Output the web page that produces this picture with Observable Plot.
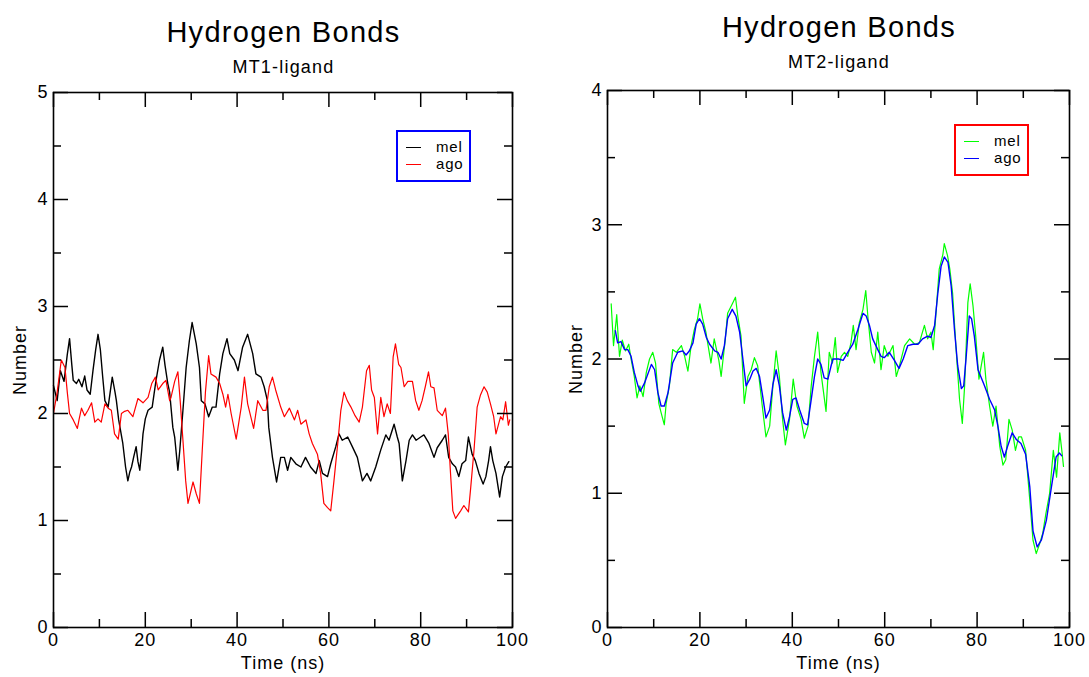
<!DOCTYPE html>
<html><head><meta charset="utf-8">
<script src="https://cdn.jsdelivr.net/npm/d3@7"></script>
<script src="https://cdn.jsdelivr.net/npm/@observablehq/plot@0.6"></script>
<style>
body{margin:0;background:#fff;font-family:"Liberation Sans",Arial,sans-serif;color:#000;}
#root{position:relative;width:1089px;height:677px;overflow:hidden;background:#fff;}
.title{position:absolute;font-size:29px;line-height:29px;letter-spacing:1.3px;text-align:center;white-space:nowrap;}
.sub{position:absolute;font-size:18px;line-height:18px;letter-spacing:1.2px;text-align:center;white-space:nowrap;}
.panel{position:absolute;top:80px;}
.legend{position:absolute;width:71px;height:48px;border:2px solid;background:#fff;}
.legend .sw{position:absolute;left:8px;width:15px;height:0;border-top:1.5px solid;}
.legend .lb{position:absolute;left:38px;font-size:15px;line-height:15px;letter-spacing:0.8px;}
</style></head>
<body><div id="root"></div>
<script>
// ---- data: time (ns), number of hydrogen bonds ----
const xMajorTicks = [0, 20, 40, 60, 80, 100];
const xMinorTicks = [10, 30, 50, 70, 90];
const mt1YMajor = [0, 1, 2, 3, 4, 5];
const mt1YMinor = [0.5, 1.5, 2.5, 3.5, 4.5];
const mt2YMajor = [0, 1, 2, 3, 4];
const mt2YMinor = [0.5, 1.5, 2.5, 3.5];
const seriesNames = ["mel", "ago"];

const mt1Mel = [[0,2.26],[0.8,2.12],[1.5,2.4],[2.3,2.3],[3.0,2.55],[3.5,2.7],[4.0,2.45],[4.3,2.31],[5.0,2.28],[5.5,2.32],[6.2,2.25],[6.8,2.35],[7.3,2.22],[8.0,2.18],[8.6,2.4],[9.2,2.6],[9.7,2.74],[10.2,2.6],[10.7,2.35],[11.2,2.12],[11.9,2.06],[12.8,2.34],[13.4,2.2],[13.7,2.12],[14.2,1.94],[15.1,1.72],[15.7,1.5],[16.2,1.37],[16.6,1.45],[17.0,1.5],[17.5,1.6],[18.0,1.69],[18.4,1.55],[18.8,1.47],[19.2,1.65],[19.5,1.81],[20.0,1.95],[20.6,2.03],[21.5,2.06],[22.3,2.3],[23.1,2.5],[23.8,2.62],[24.3,2.45],[24.9,2.28],[25.3,2.2],[26.0,1.87],[26.4,1.78],[27.1,1.47],[27.5,1.65],[28.2,2.03],[28.9,2.43],[29.6,2.68],[30.2,2.85],[31.1,2.65],[31.8,2.43],[32.2,2.12],[33.0,2.09],[33.8,1.97],[34.6,2.06],[35.4,2.06],[36.2,2.37],[36.9,2.56],[37.8,2.7],[38.4,2.56],[39.4,2.5],[40.2,2.4],[41.2,2.62],[42.3,2.74],[43.4,2.56],[44.1,2.37],[45.2,2.34],[45.9,2.25],[46.6,2.12],[46.9,1.87],[47.7,1.59],[48.6,1.36],[49.5,1.59],[50.3,1.59],[51.0,1.47],[51.7,1.59],[52.8,1.53],[53.9,1.5],[54.9,1.59],[56.0,1.5],[57.2,1.44],[57.9,1.56],[58.6,1.44],[59.7,1.41],[60.4,1.53],[61.5,1.69],[62.2,1.81],[62.9,1.75],[64.1,1.78],[65.1,1.69],[66.2,1.59],[67.3,1.37],[68.3,1.44],[69.1,1.37],[70.2,1.5],[71.3,1.66],[72.4,1.8],[73.1,1.75],[74.2,1.9],[74.9,1.78],[75.3,1.72],[76.0,1.37],[76.8,1.56],[77.5,1.75],[78.2,1.8],[79.0,1.75],[80.0,1.78],[80.7,1.8],[81.8,1.72],[82.9,1.59],[83.6,1.68],[84.7,1.75],[85.4,1.8],[86.1,1.59],[86.9,1.53],[87.6,1.5],[88.3,1.41],[89.0,1.53],[89.8,1.56],[90.4,1.78],[91.2,1.62],[91.9,1.56],[92.7,1.44],[93.6,1.34],[94.2,1.41],[94.8,1.56],[95.2,1.69],[95.7,1.56],[96.4,1.44],[97.2,1.22],[97.8,1.41],[98.5,1.5],[99.2,1.55]];

const mt1Ago = [[0,2.0],[0.8,2.2],[1.7,2.5],[2.5,2.43],[3.0,2.2],[3.5,2.0],[4.3,1.94],[5.2,1.86],[5.6,1.95],[6.1,2.05],[6.8,1.98],[7.5,2.03],[8.3,2.1],[9.0,1.92],[9.7,1.95],[10.4,1.92],[11.2,2.09],[11.9,2.05],[12.6,2.03],[13.3,1.81],[14.1,1.76],[14.8,2.0],[15.5,2.02],[16.2,2.03],[17.3,1.97],[18.4,2.14],[19.5,2.1],[20.6,2.15],[21.4,2.28],[22.2,2.34],[22.8,2.22],[23.8,2.28],[24.5,2.31],[25.3,2.12],[25.6,2.15],[26.4,2.3],[27.1,2.39],[27.6,2.12],[28.2,1.75],[28.8,1.37],[29.3,1.16],[29.8,1.25],[30.4,1.36],[31.1,1.25],[31.8,1.16],[32.4,1.65],[33.1,2.2],[33.8,2.54],[34.3,2.37],[35.4,2.34],[36.2,2.28],[36.9,2.18],[37.5,2.06],[38.0,2.18],[38.7,2.0],[39.8,1.76],[40.9,2.06],[41.6,2.34],[42.3,2.09],[43.6,1.86],[44.5,2.12],[45.6,2.03],[46.3,2.03],[47.0,2.25],[47.7,2.34],[48.4,2.22],[49.5,2.06],[50.3,1.97],[51.4,2.05],[52.5,1.94],[53.2,2.03],[53.9,1.9],[55.0,1.94],[55.7,1.81],[56.4,1.72],[57.5,1.62],[58.2,1.44],[58.9,1.16],[59.7,1.12],[60.4,1.09],[61.1,1.37],[62.0,1.75],[62.6,2.03],[63.3,2.2],[64.0,2.12],[64.8,2.06],[65.7,1.98],[66.6,1.92],[67.3,2.06],[68.2,2.4],[68.8,2.45],[69.3,2.22],[69.9,2.15],[70.6,1.81],[71.3,2.15],[72.0,1.97],[72.7,2.09],[73.4,2.0],[74.0,2.53],[74.5,2.65],[75.2,2.46],[75.7,2.43],[76.4,2.25],[77.2,2.3],[78.2,2.3],[78.9,2.12],[79.6,2.03],[80.3,2.12],[81.0,2.25],[81.7,2.39],[82.2,2.25],[82.9,2.24],[83.6,2.03],[84.7,1.98],[85.4,2.05],[86.0,1.81],[86.5,1.44],[87.0,1.09],[87.6,1.02],[88.7,1.09],[89.4,1.14],[90.4,1.08],[90.9,1.31],[91.6,1.65],[92.3,2.06],[93.0,2.17],[93.8,2.25],[94.5,2.2],[95.2,2.09],[95.9,1.97],[96.4,1.81],[97.4,1.97],[97.9,1.94],[98.5,2.11],[99.1,1.89],[99.4,1.94]];

const mt2Mel = [[0.8,2.41],[1.3,2.1],[2.0,2.33],[2.6,2.02],[3.2,2.14],[3.9,2.06],[4.6,2.11],[5.1,2.0],[5.8,1.87],[6.4,1.71],[7.0,1.8],[7.7,1.72],[8.4,1.9],[9.1,2.0],[9.8,2.05],[10.4,1.97],[11.1,1.67],[11.6,1.6],[12.3,1.51],[12.7,1.67],[13.4,1.8],[14.1,2.07],[14.9,2.05],[16.0,2.1],[16.7,2.02],[17.4,1.91],[18.1,2.1],[18.8,2.22],[19.5,2.3],[20.0,2.41],[20.6,2.3],[21.3,2.2],[22.4,1.97],[23.1,2.15],[24.1,1.99],[24.6,1.87],[25.5,2.15],[26.0,2.34],[27.0,2.41],[27.7,2.46],[28.2,2.32],[28.9,2.17],[29.6,1.67],[30.4,1.87],[31.1,1.92],[31.8,2.01],[32.5,1.95],[33.6,1.62],[34.3,1.42],[35.1,1.5],[35.8,1.8],[36.5,2.06],[37.2,1.87],[37.9,1.55],[38.5,1.36],[39.4,1.55],[40.2,1.85],[41.0,1.65],[41.9,1.55],[42.6,1.41],[43.4,1.5],[44.1,1.8],[44.8,2.02],[45.5,2.2],[46.2,1.9],[47.3,1.61],[48.0,2.05],[48.7,1.97],[49.3,2.16],[49.8,1.9],[50.6,2.02],[51.3,2.05],[52.0,2.02],[52.7,2.12],[53.2,2.25],[53.8,2.07],[54.5,2.27],[55.3,2.37],[55.9,2.51],[56.4,2.3],[57.1,2.05],[57.8,1.97],[58.5,2.2],[59.2,1.92],[59.9,2.1],[60.7,2.02],[61.8,2.1],[62.5,1.87],[63.2,1.95],[64.3,2.1],[65.4,2.15],[66.5,2.11],[67.5,2.12],[68.6,2.25],[69.3,2.15],[70.0,2.2],[70.5,2.07],[71.1,2.34],[71.8,2.67],[72.6,2.78],[72.9,2.86],[73.6,2.77],[74.1,2.67],[74.7,2.49],[75.4,2.1],[76.2,1.7],[76.8,1.52],[77.3,1.8],[78.0,2.42],[78.5,2.56],[79.1,2.4],[79.7,2.17],[80.4,1.85],[80.9,1.95],[81.4,2.05],[81.9,1.85],[82.7,1.65],[83.4,1.5],[84.1,1.65],[84.9,1.35],[85.6,1.21],[86.2,1.25],[86.9,1.55],[87.6,1.47],[88.3,1.32],[89.0,1.42],[89.6,1.42],[90.5,1.32],[91.4,0.95],[92.1,0.65],[92.8,0.55],[93.5,0.62],[94.2,0.7],[94.9,0.85],[95.7,1.0],[96.5,1.32],[97.2,1.12],[97.9,1.45],[98.4,1.3],[98.7,1.2]];

const mt2Ago = [[1.7,2.21],[2.2,2.12],[2.9,2.13],[3.7,2.07],[4.4,2.07],[5.1,2.02],[5.8,1.9],[6.6,1.8],[7.1,1.76],[8.0,1.82],[9.5,1.96],[10.2,1.92],[10.9,1.75],[11.6,1.65],[12.3,1.65],[13.1,1.75],[14.1,1.97],[15.2,2.05],[16.3,2.06],[17.0,2.03],[17.7,2.06],[18.5,2.12],[19.2,2.26],[19.9,2.3],[20.6,2.26],[21.4,2.16],[22.1,2.11],[23.2,2.06],[23.9,2.05],[24.6,2.0],[25.3,2.1],[26.0,2.3],[27.0,2.37],[27.8,2.32],[28.6,2.2],[29.3,2.0],[30.0,1.8],[30.8,1.85],[31.5,1.91],[32.2,1.93],[32.9,1.87],[33.6,1.72],[34.3,1.56],[35.1,1.62],[35.8,1.81],[36.5,1.92],[37.2,1.8],[37.9,1.6],[38.7,1.47],[39.4,1.57],[40.1,1.7],[40.8,1.71],[41.6,1.62],[42.6,1.52],[43.3,1.51],[44.1,1.7],[44.8,1.87],[45.5,2.0],[46.2,1.96],[46.9,1.86],[47.7,1.85],[48.4,1.95],[48.8,2.0],[50.0,2.0],[51.0,1.99],[52.0,2.05],[53.1,2.11],[54.2,2.22],[55.3,2.34],[56.0,2.32],[56.7,2.25],[57.4,2.15],[58.5,2.07],[59.2,2.02],[59.9,2.01],[61.0,2.05],[62.1,1.99],[63.1,1.93],[64.0,2.0],[65.0,2.1],[66.1,2.11],[67.2,2.11],[68.2,2.15],[69.3,2.17],[70.0,2.16],[70.8,2.25],[71.5,2.49],[72.2,2.69],[72.9,2.76],[73.7,2.72],[74.4,2.54],[75.1,2.22],[75.8,1.95],[76.6,1.78],[77.1,1.8],[77.6,2.0],[78.3,2.32],[78.8,2.3],[79.4,2.17],[80.2,1.92],[80.9,1.86],[81.6,1.8],[82.7,1.7],[83.8,1.62],[84.5,1.5],[85.2,1.35],[85.9,1.27],[86.6,1.35],[87.6,1.45],[88.5,1.4],[89.5,1.37],[90.5,1.29],[91.4,1.05],[92.1,0.72],[93.0,0.6],[93.9,0.65],[95.0,0.8],[96.1,1.05],[97.1,1.27],[97.8,1.3],[98.3,1.28]];

// ---- panel builder ----
const FONT = '"Liberation Sans", Arial, sans-serif';
const fmt = d3.format("d");
function panel({width, marginLeft, marginRight, marginTop, yMax, yMajor, yMinor, lines, labelDx}) {
  const height = 597, marginBottom = 50;
  const fh = height - marginTop - marginBottom;
  const fw = width - marginLeft - marginRight;
  const tk = {stroke: "#000", strokeWidth: 1.5};
  const X = d => d;
  return Plot.plot({
    width, height, marginLeft, marginRight, marginTop, marginBottom,
    x: {domain: [0, 100]},
    y: {domain: [0, yMax]},
    style: {fontFamily: FONT, fontSize: "18px", color: "#000", background: "transparent", overflow: "visible", letterSpacing: "1px"},
    marks: [
      ...lines.map(l => Plot.line(l.data, {x: d => d[0], y: d => d[1], stroke: l.color, strokeWidth: l.w})),
      Plot.frame({stroke: "#000", strokeWidth: 1.6}),
      Plot.tickX(xMajorTicks, {x: X, insetTop: fh - 15, ...tk}),
      Plot.tickX(xMajorTicks, {x: X, insetBottom: fh - 15, ...tk}),
      Plot.tickX(xMinorTicks, {x: X, insetTop: fh - 8, ...tk}),
      Plot.tickX(xMinorTicks, {x: X, insetBottom: fh - 8, ...tk}),
      Plot.tickY(yMajor, {y: X, insetRight: fw - 15, ...tk}),
      Plot.tickY(yMajor, {y: X, insetLeft: fw - 15, ...tk}),
      Plot.tickY(yMinor, {y: X, insetRight: fw - 8, ...tk}),
      Plot.tickY(yMinor, {y: X, insetLeft: fw - 8, ...tk}),
      Plot.axisX(xMajorTicks, {tickSize: 0, tickPadding: 6, label: null, fontSize: 18, tickFormat: fmt}),
      Plot.axisY(yMajor, {tickSize: 0, tickPadding: 5, label: null, fontSize: 18, tickFormat: fmt}),
      Plot.text(["Time (ns)"], {text: d => d, frameAnchor: "bottom", dy: 36, fontSize: 18, lineAnchor: "middle"}),
      Plot.text(["Number"], {text: d => d, frameAnchor: "left", textAnchor: "middle", dx: labelDx, rotate: -90, fontSize: 18, lineAnchor: "middle"})
    ]
  });
}

const root = document.getElementById("root");
function addDiv(cls, text, css) {
  const d = document.createElement("div");
  d.className = cls; if (text != null) d.textContent = text;
  Object.assign(d.style, css); root.appendChild(d); return d;
}

// titles
addDiv("title", "Hydrogen Bonds", {left: "0px", width: "567px", top: "18px"});
addDiv("sub", "MT1-ligand", {left: "0px", width: "567px", top: "58px"});
addDiv("title", "Hydrogen Bonds", {left: "545px", width: "588px", top: "13px"});
addDiv("sub", "MT2-ligand", {left: "545px", width: "588px", top: "53px"});

// panels
const left = panel({width: 545, marginLeft: 53, marginRight: 33, marginTop: 12, yMax: 5, yMajor: mt1YMajor, yMinor: mt1YMinor,
  lines: [{data: mt1Mel, color: "#000000", w: 1.4}, {data: mt1Ago, color: "#ff0000", w: 1.2}], labelDx: -33});
const lp = addDiv("panel", null, {left: "0px"}); lp.appendChild(left);

const right = panel({width: 544, marginLeft: 62, marginRight: 20, marginTop: 10, yMax: 4, yMajor: mt2YMajor, yMinor: mt2YMinor,
  lines: [{data: mt2Mel, color: "#00ff00", w: 1.2}, {data: mt2Ago, color: "#0000ff", w: 1.4}], labelDx: -31});
const rp = addDiv("panel", null, {left: "545px"}); rp.appendChild(right);

// legends
function legend(x, y, border, colors) {
  const box = addDiv("legend", null, {left: x + "px", top: y + "px", borderColor: border});
  seriesNames.forEach((name, i) => {
    const sw = document.createElement("div"); sw.className = "sw";
    sw.style.borderTopColor = colors[i]; sw.style.top = (15 + i * 17) + "px"; box.appendChild(sw);
    const lb = document.createElement("div"); lb.className = "lb"; lb.textContent = name;
    lb.style.top = (7 + i * 17) + "px"; box.appendChild(lb);
  });
}
legend(396, 130, "#0000ff", ["#000000", "#ff0000"]);
legend(954, 124, "#ff0000", ["#00ff00", "#0000ff"]);
</script></body></html>
